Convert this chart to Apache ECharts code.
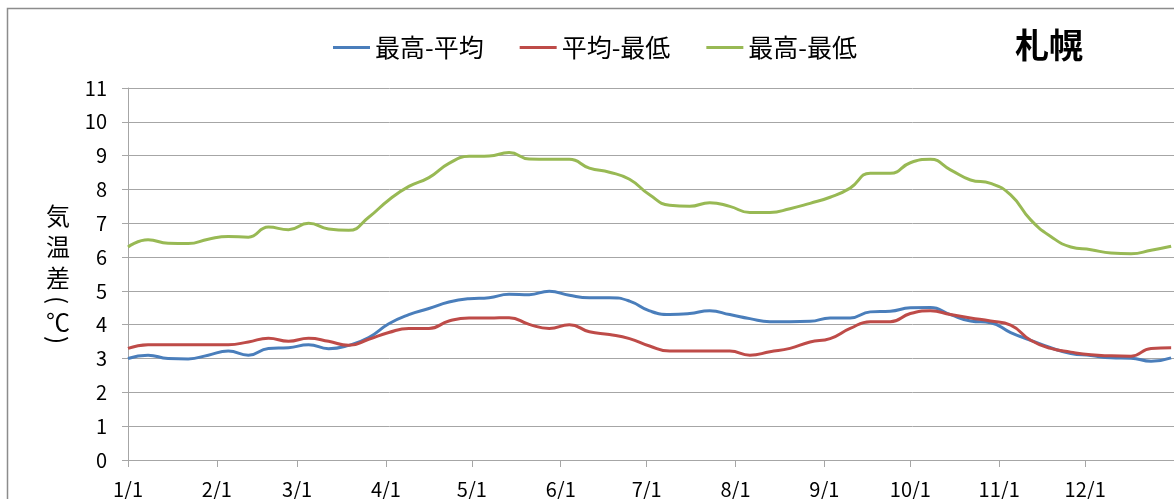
<!DOCTYPE html>
<html>
<head>
<meta charset="utf-8">
<script src="https://cdn.jsdelivr.net/npm/echarts@6/dist/echarts.min.js"></script>
<style>
  html, body { margin: 0; padding: 0; background: #fff; }
  #chart { width: 1174px; height: 499px; }
</style>
</head>
<body>
<div id="chart"></div>
<script>
// Day of year (0 = 1/1) for each weekly sample
const sampleDays = [0, 7, 14, 21, 28, 35, 42, 49, 56, 63, 70, 77, 84, 91, 98, 105, 112, 119, 126, 133,
  140, 147, 154, 161, 168, 175, 182, 189, 196, 203, 210, 217, 224, 231, 238, 245, 252, 259, 266, 273,
  280, 287, 294, 301, 308, 315, 322, 329, 336, 343, 350, 357, 364];

// 最高-平均
const highMinusMean = [3.00, 3.10, 3.00, 2.99, 3.10, 3.22, 3.10, 3.30, 3.32, 3.41, 3.29, 3.39, 3.62, 4.03, 4.30, 4.48, 4.67, 4.77, 4.80, 4.90,
  4.89, 4.99, 4.87, 4.80, 4.80, 4.70, 4.41, 4.30, 4.33, 4.41, 4.30, 4.18, 4.09, 4.09, 4.10, 4.20, 4.20, 4.38, 4.40, 4.50,
  4.51, 4.30, 4.11, 4.06, 3.77, 3.54, 3.32, 3.15, 3.09, 3.02, 3.01, 2.92, 3.02];

// 平均-最低
const meanMinusLow = [3.30, 3.41, 3.41, 3.41, 3.41, 3.41, 3.49, 3.60, 3.51, 3.60, 3.51, 3.39, 3.57, 3.77, 3.89, 3.89, 4.11, 4.20, 4.20, 4.21,
  4.01, 3.89, 4.00, 3.79, 3.71, 3.59, 3.37, 3.22, 3.22, 3.22, 3.22, 3.10, 3.20, 3.30, 3.49, 3.59, 3.89, 4.09, 4.09, 4.33,
  4.41, 4.30, 4.20, 4.11, 3.99, 3.54, 3.30, 3.19, 3.11, 3.08, 3.07, 3.30, 3.32];

// 最高-最低
const highMinusLow = [6.30, 6.51, 6.41, 6.40, 6.53, 6.61, 6.59, 6.89, 6.81, 7.00, 6.83, 6.79, 7.18, 7.69, 8.09, 8.35, 8.77, 8.98, 8.99, 9.09,
  8.90, 8.89, 8.89, 8.63, 8.51, 8.30, 7.84, 7.53, 7.50, 7.61, 7.50, 7.32, 7.32, 7.43, 7.59, 7.77, 8.04, 8.48, 8.48, 8.79,
  8.89, 8.58, 8.28, 8.18, 7.84, 7.10, 6.61, 6.30, 6.22, 6.12, 6.10, 6.20, 6.32];

// Month starts (day of year) and their tick labels
const monthStartDays = [0, 31, 59, 90, 120, 151, 181, 212, 243, 273, 304, 334];
const monthLabels = ['1/1', '2/1', '3/1', '4/1', '5/1', '6/1', '7/1', '8/1', '9/1', '10/1', '11/1', '12/1'];

const seriesNames = ['最高-平均', '平均-最低', '最高-最低'];
const seriesColors = ['#4a7ebb', '#be4b48', '#98b954'];
const seriesValues = [highMinusMean, meanMinusLow, highMinusLow];

const FONT = '"Noto Sans CJK JP", "Noto Sans", sans-serif';
const labelByDay = {};
monthStartDays.forEach((d, i) => { labelByDay[d] = monthLabels[i]; });

const chart = echarts.init(document.getElementById('chart'), null, { renderer: 'canvas' });

// Vertical axis title, one character per line; the brackets are turned to their vertical form
const yNameChars = ['気', '温', '差', '(', '℃', ')'];
const yNameCenters = [216, 247, 278, 300, 322, 340];
const yNameTurn = [0, 0, 0, -Math.PI / 2, 0, -Math.PI / 2];

chart.setOption({
  animation: false,
  backgroundColor: '#ffffff',
  textStyle: { fontFamily: FONT },
  grid: { left: 128, top: 88, bottom: 39, right: -2, containLabel: false },
  legend: {
    left: 328,
    top: 30,
    icon: 'rect',
    itemWidth: 37,
    itemHeight: 3,
    itemGap: 36,
    textStyle: { fontFamily: FONT, fontSize: 25, color: '#000', padding: [0, 0, 0, 0] },
    data: seriesNames
  },
  xAxis: {
    type: 'value',
    min: 0,
    max: 365,
    axisLine: { show: true, lineStyle: { color: '#a6a6a6', width: 1 } },
    axisTick: { show: true, length: 7, lineStyle: { color: '#a6a6a6' }, customValues: monthStartDays },
    axisLabel: {
      customValues: monthStartDays,
      formatter: v => labelByDay[v] || '',
      fontSize: 20, color: '#000', margin: 19, fontFamily: FONT
    },
    splitLine: { show: false }
  },
  yAxis: {
    type: 'value',
    min: 0,
    max: 11,
    interval: 1,
    axisLine: { show: true, lineStyle: { color: '#a6a6a6', width: 1 } },
    axisTick: { show: true, length: 6, lineStyle: { color: '#a6a6a6' } },
    axisLabel: { fontSize: 20, color: '#000', margin: 21, fontFamily: FONT },
    splitLine: { show: true, lineStyle: { color: '#a6a6a6', width: 1 } }
  },
  series: seriesNames.map((name, i) => ({
    name,
    type: 'line',
    data: sampleDays.map((d, k) => [d, seriesValues[i][k]]),
    smooth: 0.5,
    showSymbol: false,
    symbol: 'none',
    color: seriesColors[i],
    lineStyle: { width: 3, color: seriesColors[i] },
    z: 3 + i
  })),
  graphic: [
    {
      type: 'rect',
      shape: { x: 7.5, y: 8.5, width: 1200, height: 520 },
      style: { fill: null, stroke: '#8c8c8c', lineWidth: 1.5 },
      silent: true, z: 0
    },
    {
      type: 'text',
      left: 1015,
      top: 28,
      style: { text: '札幌', font: 'bold 34px ' + FONT, fill: '#000' },
      z: 10
    }
  ].concat(yNameChars.map((ch, i) => ({
    type: 'text',
    x: 58,
    y: yNameCenters[i],
    rotation: yNameTurn[i],
    style: {
      text: ch,
      font: '24px ' + FONT,
      fill: '#000',
      align: 'center',
      verticalAlign: 'middle'
    },
    z: 10
  })))
});
</script>
</body>
</html>
